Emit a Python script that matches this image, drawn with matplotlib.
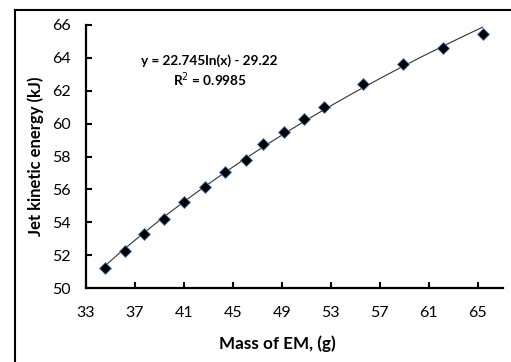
import numpy as np
import matplotlib.pyplot as plt
from matplotlib.lines import Line2D

plt.rcParams['font.family'] = ['Lato', 'DejaVu Sans']

# data
mass = [34.55, 36.16, 37.76, 39.35, 41.03, 42.70, 44.33, 46.05,
        47.49, 49.18, 50.81, 52.44, 55.66, 58.87, 62.14, 65.41]
energy = [51.20, 52.23, 53.28, 54.22, 55.21, 56.13, 57.04, 57.77,
          58.74, 59.51, 60.30, 61.03, 62.39, 63.61, 64.58, 65.43]
fit_a, fit_b = 22.745, -29.22
x_ticks = [33, 37, 41, 45, 49, 53, 57, 61, 65]
y_ticks = [50, 52, 54, 56, 58, 60, 62, 64, 66]

fig = plt.figure(figsize=(5.11, 3.62), dpi=100)
ax = fig.add_axes([86 / 511, 1 - 288 / 362, (503 - 86) / 511, (288 - 25) / 362])

# log trend line
xf = np.linspace(min(mass), max(mass), 200)
ax.plot(xf, fit_a * np.log(xf) + fit_b, color='#333333', lw=0.8, zorder=2)
ax.plot(mass, energy, linestyle='none', marker='D', ms=6,
        markerfacecolor='black', markeredgecolor='#4f81bd', markeredgewidth=0.6, zorder=3)

ax.set_xlim(33, 67.07)
ax.set_ylim(50, 66)
ax.set_xticks(x_ticks)
ax.set_yticks(y_ticks)
ax.tick_params(direction='in', length=4, width=1.5, labelsize=11.5, colors='black')
ax.tick_params(axis='x', pad=13)
ax.tick_params(axis='y', pad=11)
for s in ['top', 'right']:
    ax.spines[s].set_visible(False)
for s in ['left', 'bottom']:
    ax.spines[s].set_linewidth(1.6)

ax.set_xlabel('Mass of EM, (g)', fontsize=12.3, fontweight='bold')
ax.set_ylabel('Jet kinetic energy (kJ)', fontsize=12, fontweight='bold')
ax.xaxis.set_label_coords((277 - 86) / 417, -(335 - 288) / 263)
ax.yaxis.set_label_coords(-(86 - 44) / 417, (288 - 156) / 263)

ax.text(209.5 / 511, 1 - 61 / 362, 'y = 22.745ln(x) - 29.22', transform=fig.transFigure,
        ha='center', va='center', fontsize=9.8, fontweight='bold')
ax.text(210 / 511, 1 - 80 / 362, 'R$^2$ = 0.9985', transform=fig.transFigure,
        ha='center', va='center', fontsize=9.8, fontweight='bold')

# outer chart frame (only left and top visible in the crop)
fig.add_artist(Line2D([14.5 / 511, 14.5 / 511], [0, 1 - 10 / 362], color='black', lw=1.5))
fig.add_artist(Line2D([14.5 / 511, 1], [1 - 10 / 362, 1 - 10 / 362], color='black', lw=1.5))

fig.savefig('out.png', dpi=100)
